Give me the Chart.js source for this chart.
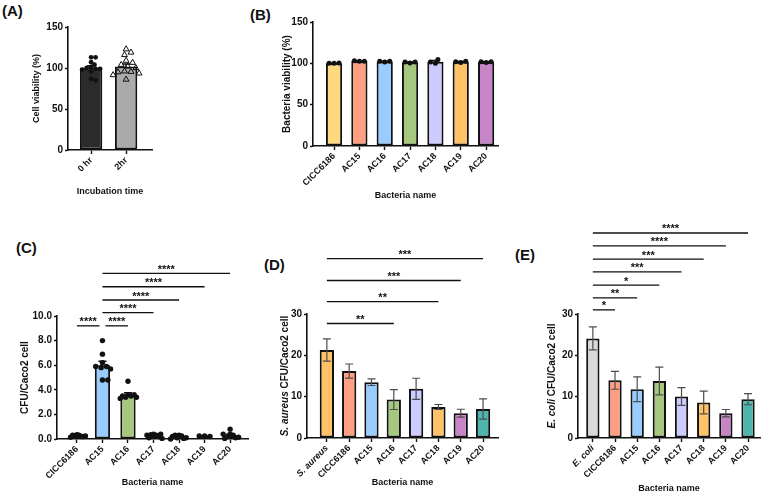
<!DOCTYPE html>
<html>
<head>
<meta charset="utf-8">
<title>Cell and bacteria viability, adhesion to Caco2 cells</title>
<script src="https://cdn.jsdelivr.net/npm/chart.js@4.4.1/dist/chart.umd.min.js"></script>
<style>
  body { margin: 0; width: 767px; height: 500px; position: relative; overflow: hidden; background: #fff; font-family: "Liberation Sans", Arial, sans-serif; }
  canvas { position: absolute; }
  .panel { position: absolute; font-size: 15px; font-weight: bold; line-height: 1; color: #111; }
</style>
</head>
<body>
<div class="panel" style="left:2px;top:3px">(A)</div>
<div class="panel" style="left:250px;top:7px">(B)</div>
<div class="panel" style="left:16px;top:240px">(C)</div>
<div class="panel" style="left:264px;top:257px">(D)</div>
<div class="panel" style="left:515px;top:247px">(E)</div>
<canvas id="chartA" width="165" height="205" style="left:0;top:0"></canvas>
<canvas id="chartB" width="265" height="205" style="left:240px;top:0"></canvas>
<canvas id="chartC" width="252" height="285" style="left:0;top:215px"></canvas>
<canvas id="chartD" width="255" height="285" style="left:250px;top:215px"></canvas>
<canvas id="chartE" width="262" height="285" style="left:505px;top:215px"></canvas>
<script>
// (A) Caco2 cell viability
const timeLabels = ['0 hr', '2hr'];
const cellViability = [100.2, 101.8];
const cellViabilityErr = [2.5, 3.0];
const cellPoints = [
  [113, 113, 107, 104, 101, 100, 99, 99, 98, 96, 87, 85],
  [123, 119, 116, 109, 106.5, 104, 102, 100, 96, 95.5, 95, 93.5, 91.5, 86]
];

// (B) bacteria viability
const strains = ['CICC6186', 'AC15', 'AC16', 'AC17', 'AC18', 'AC19', 'AC20'];
const bacteriaViability = [100.2, 102.7, 102.2, 101.2, 102, 101.8, 101.7];
const bacteriaViabilityErr = [0.3, 0.2, 0.3, 0.4, 1.3, 0.4, 0.3];
const bacteriaPoints = [
  [100, 100.5, 100], [102.5, 102.5, 103], [101.5, 102.5, 102.5], [100.5, 101.5, 101.5],
  [100, 104.5, 101.5], [101, 102.5, 102], [101, 102, 102]
];

// (C) adhesion, CFU per Caco2 cell
const adhesion = [0.25, 6.0, 3.6, 0.26, 0.16, 0.23, 0.3];
const adhesionErr = [0.03, 0.33, 0.16, 0.05, 0.04, 0.02, 0.09];
const adhesionPoints = [
  [0.35, 0.3, 0.25, 0.2, 0.3, 0.2, 0.15, 0.25],
  [8.0, 6.9, 6.2, 5.9, 5.8, 5.9, 5.7, 4.8, 4.8],
  [4.7, 3.6, 3.5, 3.4, 3.5, 3.6, 3.4, 3.3],
  [0.4, 0.3, 0.35, 0.2, 0.1, 0.3, 0.4, 0.05],
  [0.3, 0.25, 0.1, 0.05, 0.3, 0.2, 0.1, 0.0],
  [0.25, 0.2, 0.25],
  [0.8, 0.4, 0.3, 0.2, 0.1, 0.05, 0.4, 0.15]
];
const adhesionSig = [[0, 1, 9.2, '****'], [1, 2, 9.2, '****'], [1, 3, 10.27, '****'],
  [1, 4, 11.3, '****'], [1, 5, 12.38, '****'], [1, 6, 13.47, '****']];

// (D) S. aureus competition
const aureusGroups = ['S. aureus', 'CICC6186', 'AC15', 'AC16', 'AC17', 'AC18', 'AC19', 'AC20'];
const aureusCFU = [21.3, 16.2, 13.5, 9.3, 11.9, 7.5, 6.0, 7.0];
const aureusErr = [2.7, 1.7, 0.8, 2.4, 2.55, 0.6, 0.95, 2.45];
const aureusSig = [[0, 3, 27.7, '**'], [0, 5, 33.0, '**'], [0, 6, 38.1, '***'], [0, 7, 43.4, '***']];

// (E) E. coli competition
const coliGroups = ['E. coli', 'CICC6186', 'AC15', 'AC16', 'AC17', 'AC18', 'AC19', 'AC20'];
const coliCFU = [24.1, 13.95, 11.8, 13.8, 10.05, 8.6, 6.0, 9.4];
const coliErr = [2.8, 2.15, 3.0, 3.35, 2.15, 2.75, 0.9, 1.35];
const coliSig = [[0, 1, 31.0, '*'], [0, 2, 33.9, '**'], [0, 3, 37.0, '*'], [0, 4, 40.2, '***'],
  [0, 5, 43.3, '***'], [0, 6, 46.5, '****'], [0, 7, 49.6, '****']];

const FONT = '"Liberation Sans", Arial, sans-serif';
const INK = '#111';
const C = {
  yellow: '#FFD97F', salmon: '#FF9E80', blue: '#99CCFF', green: '#A6C87E', lavender: '#CCCCFF',
  orange: '#FFC266', purple: '#C785C8', teal: '#4DB5AE', gray: '#D9D9D9'
};

Chart.defaults.font.family = FONT;
Chart.defaults.color = INK;

function marker(ctx, shape, x, y, r) {
  ctx.beginPath();
  if (shape === 'triangle') {
    ctx.moveTo(x, y - r);
    ctx.lineTo(x + 0.87 * r, y + 0.5 * r);
    ctx.lineTo(x - 0.87 * r, y + 0.5 * r);
    ctx.closePath();
    ctx.lineWidth = 1;
    ctx.stroke();
  } else {
    ctx.arc(x, y, r, 0, Math.PI * 2);
    ctx.fill();
  }
}

// horizontal offsets for a group of points, squeezed to fit within +-limit px
function spread(pys, r, limit) {
  const placed = [];
  pys.forEach(py => {
    let dx = 0;
    for (let k = 0; k < 80; k++) {
      dx = (k % 2 ? 1 : -1) * Math.ceil(k / 2) * r * 0.5;
      if (placed.every(p => Math.hypot(p[0] - dx, p[1] - py) >= 1.7 * r)) break;
    }
    placed.push([dx, py]);
  });
  const widest = Math.max(...placed.map(p => Math.abs(p[0])));
  const f = widest > limit ? limit / widest : 1;
  return placed.map(p => p[0] * f);
}

const extras = {
  id: 'extras',
  afterDatasetsDraw(chart, args, o) {
    const ctx = chart.ctx, ys = chart.scales.y;
    const bars = chart.getDatasetMeta(0).data;
    const data = chart.data.datasets[0].data;
    ctx.save();
    // error bars
    ctx.strokeStyle = o.errColor;
    ctx.lineWidth = o.errWidth;
    bars.forEach((b, i) => {
      const v = data[i].y, e = o.errors[i];
      const top = ys.getPixelForValue(v + e);
      const bot = o.upOnly ? ys.getPixelForValue(v) : ys.getPixelForValue(v - e);
      ctx.beginPath();
      ctx.moveTo(b.x, top); ctx.lineTo(b.x, bot);
      ctx.moveTo(b.x - o.cap / 2, top); ctx.lineTo(b.x + o.cap / 2, top);
      if (!o.upOnly) { ctx.moveTo(b.x - o.cap / 2, bot); ctx.lineTo(b.x + o.cap / 2, bot); }
      ctx.stroke();
    });
    // individual points
    if (o.points) {
      ctx.fillStyle = INK;
      ctx.strokeStyle = INK;
      o.points.forEach((vals, i) => {
        const b = bars[i];
        const shape = o.shapes ? o.shapes[i] : 'dot';
        const r = shape === 'triangle' ? 3.4 : o.radius;
        const pys = vals.map(v => ys.getPixelForValue(v));
        const dxs = spread(pys, r, shape === 'triangle' ? o.spread + 4 : o.spread);
        pys.forEach((py, k) => marker(ctx, shape, b.x + dxs[k], py, r));
      });
    }
    // significance lines
    if (o.sig) {
      ctx.strokeStyle = INK;
      ctx.fillStyle = INK;
      ctx.lineWidth = 1.3;
      ctx.font = 'bold 11px ' + FONT;
      ctx.textAlign = 'center';
      ctx.textBaseline = 'alphabetic';
      o.sig.forEach(([a, z, v, txt]) => {
        let x1 = bars[a].x, x2 = bars[z].x;
        const shared = o.sig.filter(s => s[2] === v && !(s[0] === a && s[1] === z));
        if (shared.some(s => s[0] === a || s[1] === a)) x1 += 3;
        if (shared.some(s => s[0] === z || s[1] === z)) x2 -= 3;
        const y = ys.getPixelForValue(v);
        ctx.beginPath(); ctx.moveTo(x1, y); ctx.lineTo(x2, y); ctx.stroke();
        ctx.fillText(txt, (x1 + x2) / 2, y - 0.5);
      });
    }
    // y axis title, with italic parts
    const t = o.yTitle;
    const fonts = t.parts.map(p => (p[1] ? 'italic ' : '') + 'bold ' + t.size + 'px ' + FONT);
    const widths = t.parts.map((p, i) => { ctx.font = fonts[i]; return ctx.measureText(p[0]).width; });
    const total = widths.reduce((s, w) => s + w, 0);
    ctx.translate(t.x, (chart.chartArea.top + chart.chartArea.bottom) / 2);
    ctx.rotate(-Math.PI / 2);
    ctx.fillStyle = INK;
    ctx.textAlign = 'left';
    ctx.textBaseline = 'middle';
    let cx = -total / 2;
    t.parts.forEach((p, i) => { ctx.font = fonts[i]; ctx.fillText(p[0], cx, 0); cx += widths[i]; });
    ctx.restore();
  }
};

function axisX(names, min, max, height, title, titlePad, italicFirst) {
  return {
    type: 'linear', min, max, bounds: 'data', offset: false,
    afterBuildTicks: s => { s.ticks = names.map((n, i) => ({ value: i })); },
    afterFit: s => { s.height = height; s.paddingLeft = 0; s.paddingRight = 0; },
    border: { display: true, color: INK, width: 1.6 },
    grid: { display: true, drawOnChartArea: false, offset: false, tickLength: 4, tickWidth: 1.4, tickColor: INK },
    ticks: {
      autoSkip: false, maxRotation: 45, minRotation: 45, padding: 1, color: INK,
      font: c => ({ family: FONT, size: 9, weight: 'bold', style: italicFirst && c.index === 0 ? 'italic' : 'normal' }),
      callback: v => names[v]
    },
    title: { display: true, text: title, color: INK, font: { family: FONT, size: 9, weight: 'bold' }, padding: { top: 0, bottom: titlePad } }
  };
}

function axisY(max, step, width, decimals) {
  return {
    min: 0, max,
    afterFit: s => { s.width = width; s.paddingTop = 0; s.paddingBottom = 0; },
    border: { display: true, color: INK, width: 1.6 },
    grid: { display: true, drawOnChartArea: false, tickLength: 3, tickWidth: 1.4, tickColor: INK },
    ticks: { stepSize: step, padding: 2, color: INK, font: { family: FONT, size: 10, weight: 'bold' },
      callback: v => v.toFixed(decimals) },
    title: { display: false }
  };
}

function barChart(id, p) {
  return new Chart(document.getElementById(id), {
    type: 'bar',
    data: {
      datasets: [{
        data: p.values.map((v, i) => ({ x: i, y: v })),
        backgroundColor: p.colors, borderColor: INK, borderWidth: 2, borderSkipped: false,
        barPercentage: p.barWidth, categoryPercentage: 1
      }]
    },
    options: {
      responsive: false, animation: false,
      layout: { autoPadding: false, padding: { left: 0, top: p.top, right: p.right, bottom: 0 } },
      plugins: { legend: { display: false }, tooltip: { enabled: false }, extras: p.extras },
      scales: { x: p.x, y: p.y }
    },
    plugins: [extras]
  });
}

barChart('chartA', {
  values: cellViability, colors: ['#2B2B2B', '#AAAAAA'], barWidth: 0.64, top: 27, right: 13,
  x: axisX(timeLabels, -0.66, 1.74, 55, 'Incubation time', 7.6, false),
  y: axisY(150, 50, 68, 0),
  extras: { errors: cellViabilityErr, upOnly: true, errColor: INK, errWidth: 1.5, cap: 8,
    points: cellPoints, shapes: ['dot', 'triangle'], radius: 2.4, spread: 9,
    yTitle: { x: 37, size: 9, parts: [['Cell viability (%)', false]] } }
});

barChart('chartB', {
  values: bacteriaViability, colors: [C.yellow, C.salmon, C.blue, C.green, C.lavender, C.orange, C.purple],
  barWidth: 0.64, top: 22, right: 7,
  x: axisX(strains, -0.83, 6.47, 59, 'Bacteria name', 3.6, false),
  y: axisY(150, 50, 73, 0),
  extras: { errors: bacteriaViabilityErr, upOnly: true, errColor: INK, errWidth: 1.5, cap: 8,
    points: bacteriaPoints, radius: 2.5, spread: 6,
    yTitle: { x: 47, size: 10, parts: [['Bacteria viability (%)', false]] } }
});

barChart('chartC', {
  values: adhesion, colors: [C.salmon, C.blue, C.green, C.lavender, C.orange, C.purple, C.teal],
  barWidth: 0.6, top: 101, right: 4,
  x: axisX(strains, -0.78, 6.7, 61, 'Bacteria name', 11.6, false),
  y: axisY(10, 2, 57, 1),
  extras: { errors: adhesionErr, upOnly: true, errColor: INK, errWidth: 1.5, cap: 8,
    points: adhesionPoints, radius: 2.7, spread: 8.5, sig: adhesionSig,
    yTitle: { x: 25, size: 10, parts: [['CFU/Caco2 cell', false]] } }
});

barChart('chartD', {
  values: aureusCFU, colors: [C.orange, C.salmon, C.blue, C.green, C.lavender, C.orange, C.purple, C.teal],
  barWidth: 0.64, top: 99, right: 7,
  x: axisX(aureusGroups, -0.89, 7.67, 62, 'Bacteria name', 11.6, true),
  y: axisY(30, 10, 57, 0),
  extras: { errors: aureusErr, upOnly: false, errColor: '#4D4D4D', errWidth: 1.2, cap: 8, sig: aureusSig,
    yTitle: { x: 35, size: 10, parts: [['S. aureus', true], [' CFU/Caco2 cell', false]] } }
});

barChart('chartE', {
  values: coliCFU, colors: [C.gray, C.salmon, C.blue, C.green, C.lavender, C.orange, C.purple, C.teal],
  barWidth: 0.6, top: 99, right: 7,
  x: axisX(coliGroups, -0.67, 7.54, 62, 'Bacteria name', 5.6, true),
  y: axisY(30, 10, 73, 0),
  extras: { errors: coliErr, upOnly: false, errColor: '#4D4D4D', errWidth: 1.2, cap: 8, sig: coliSig,
    yTitle: { x: 47, size: 10, parts: [['E. coli', true], [' CFU/Caco2 cell', false]] } }
});
</script>
</body>
</html>
